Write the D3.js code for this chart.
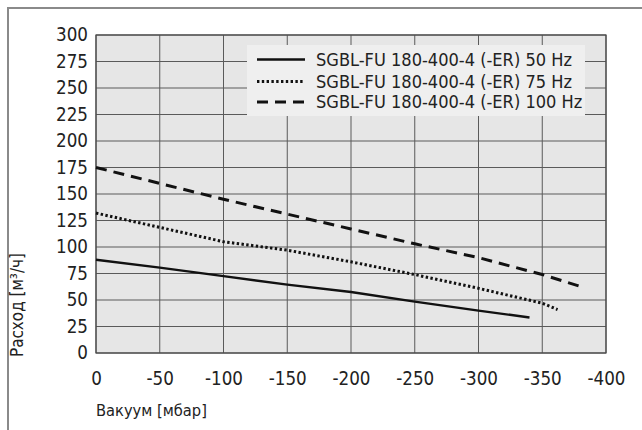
<!DOCTYPE html>
<html><head><meta charset="utf-8">
<script src="https://cdn.jsdelivr.net/npm/d3@7"></script>
<style>html,body{margin:0;padding:0;background:#fff;}svg{display:block;}</style>
</head><body>
<svg id="c" width="642" height="430"></svg>
<script>
const xTicks = [0,-50,-100,-150,-200,-250,-300,-350,-400];
const yTicks = [0,25,50,75,100,125,150,175,200,225,250,275,300];
const seriesNames = ["SGBL-FU 180-400-4 (-ER) 50 Hz","SGBL-FU 180-400-4 (-ER) 75 Hz","SGBL-FU 180-400-4 (-ER) 100 Hz"];
const vacuum50 = [0,-50,-100,-150,-200,-250,-300,-340];
const flow50   = [88,80.5,72.5,64.5,57.5,48.5,40,33.5];
const vacuum75 = [0,-50,-100,-150,-200,-250,-300,-350,-362];
const flow75   = [132,118.5,105,97,86,74,61,47,41];
const vacuum100 = [0,-50,-100,-150,-200,-250,-300,-350,-382];
const flow100   = [175,160,145,131,117,103,90,74,62];
const xTitle = "Вакуум [мбар]";
const yTitle = "Расход [м³/ч]";

const FONT = "'Liberation Sans Narrow','DejaVu Sans Condensed','Open Sans',sans-serif";
const svg = d3.select("#c");
const L=96,R=606,T=35,B=353;
const x = d3.scaleLinear().domain([0,-400]).range([L,R]);
const y = d3.scaleLinear().domain([0,300]).range([B,T]);

// outer frame
svg.append("path").attr("d","M8,430 L8,8 L642,8").attr("fill","none").attr("stroke","#8a8a8a").attr("stroke-width",2);

// plot background
svg.append("rect").attr("x",L).attr("y",T).attr("width",R-L).attr("height",B-T).attr("fill","#e6e6e6");

// grid
const grid = svg.append("g").attr("stroke","#5a5a5a").attr("stroke-width",1);
grid.selectAll("line.h").data(yTicks).join("line").attr("class","h")
  .attr("x1",L).attr("x2",R).attr("y1",d=>y(d)).attr("y2",d=>y(d));
grid.selectAll("line.v").data(xTicks).join("line").attr("class","v")
  .attr("y1",T).attr("y2",B).attr("x1",d=>x(d)).attr("x2",d=>x(d));

// legend background (covers grid)
svg.append("rect").attr("x",247).attr("y",45).attr("width",338).attr("height",71).attr("fill","#efefef");

// border of plot
svg.append("rect").attr("x",L).attr("y",T).attr("width",R-L).attr("height",B-T).attr("fill","none").attr("stroke","#4a4a4a").attr("stroke-width",1.2);

function fit(sel, target){
  let fs = 16; sel.attr("font-size",fs);
  const w = sel.node().getComputedTextLength();
  if (w>0) sel.attr("font-size", fs*target/w);
}

// axes
const xAxis = d3.axisBottom(x).tickValues(xTicks).tickSize(0).tickPadding(0).tickFormat(d=>String(d));
const gx = svg.append("g").attr("transform",`translate(0,${B})`).call(xAxis);
gx.select(".domain").remove();
gx.selectAll("text").attr("y",25).attr("dy","0.35em").attr("fill","#222").attr("font-family",FONT);
const yAxis = d3.axisLeft(y).tickValues(yTicks).tickSize(0).tickPadding(8).tickFormat(d=>String(d));
const gy = svg.append("g").attr("transform",`translate(${L},0)`).call(yAxis);
gy.select(".domain").remove();
gy.selectAll("text").attr("fill","#222").attr("font-family",FONT);
// size tick font from label "300" width ~32px
const t300 = gy.selectAll("text").filter(d=>d===300);
fit(t300, 32);
const tickFs = t300.attr("font-size");
gy.selectAll("text").attr("font-size",tickFs);
gx.selectAll("text").attr("font-size",tickFs);

// axis titles
const xt = svg.append("text").attr("x",L).attr("y",410).attr("dy","0.35em").attr("font-family",FONT).attr("fill","#222").text(xTitle);
fit(xt,111);
const yt = svg.append("text").attr("transform","translate(17,305) rotate(-90)").attr("text-anchor","middle").attr("dy","0.35em").attr("font-family",FONT).attr("fill","#222").text(yTitle);
fit(yt,104);

// series
const styles = [
  {dash:null, w:2.4},
  {dash:"2.4,2.4", w:3},
  {dash:"11,7", w:3}
];
const seriesData = [
  d3.zip(vacuum50,flow50),
  d3.zip(vacuum75,flow75),
  d3.zip(vacuum100,flow100)
];
const line = d3.line().x(d=>x(d[0])).y(d=>y(d[1]));
seriesData.forEach((s,i)=>{
  svg.append("path").attr("d",line(s)).attr("fill","none").attr("stroke","#111")
    .attr("stroke-width",styles[i].w).attr("stroke-dasharray",styles[i].dash);
});

// legend
const ly = [59.5,81.5,102];
seriesNames.forEach((n,i)=>{
  svg.append("line").attr("x1",257).attr("x2",305).attr("y1",ly[i]).attr("y2",ly[i])
    .attr("stroke","#111").attr("stroke-width",styles[i].w).attr("stroke-dasharray",styles[i].dash);
});
const lt = svg.selectAll("text.leg").data(seriesNames).join("text").attr("class","leg")
  .attr("x",316).attr("y",(d,i)=>ly[i]).attr("dy","0.35em").attr("font-family",FONT).attr("fill","#222").text(d=>d);
fit(lt.filter((d,i)=>i===0),256);
lt.attr("font-size", lt.filter((d,i)=>i===0).attr("font-size"));
</script>
</body></html>
